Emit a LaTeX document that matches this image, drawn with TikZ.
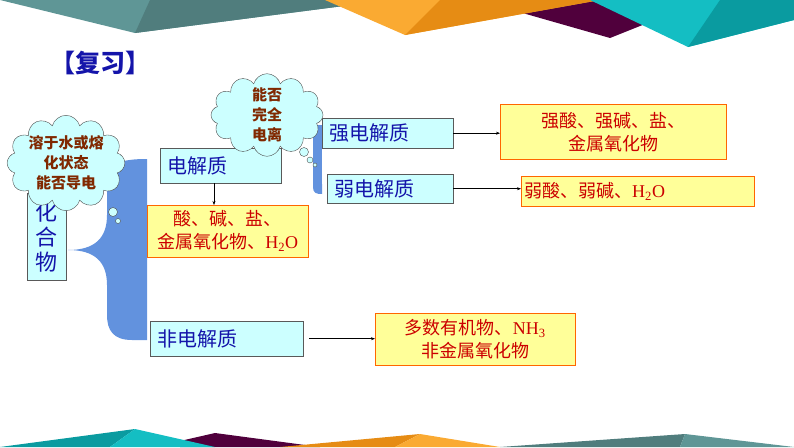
\documentclass[tikz,border=0pt]{standalone}
\usepackage{fontspec}
\setmainfont{Noto Sans CJK SC}
\newfontfamily\lat{Liberation Serif}
\usetikzlibrary{shapes.symbols,arrows.meta}
\definecolor{cyanbox}{RGB}{204,255,255}
\definecolor{yelbox}{RGB}{255,255,153}
\definecolor{bluetxt}{RGB}{20,20,170}
\definecolor{redtxt}{RGB}{204,0,0}
\definecolor{browntxt}{RGB}{128,40,0}
\definecolor{brace}{RGB}{98,146,222}
\definecolor{tealA}{RGB}{95,150,150}
\definecolor{tealB}{RGB}{80,125,125}
\definecolor{orA}{RGB}{250,170,50}
\definecolor{orB}{RGB}{230,140,20}
\definecolor{puA}{RGB}{80,0,60}
\definecolor{cyA}{RGB}{20,190,195}
\definecolor{cyB}{RGB}{10,155,160}
\tikzset{
 cbox/.style={draw=gray!70!black,fill=cyanbox,text=bluetxt,font=\fontsize{20}{22}\selectfont,inner xsep=7pt,inner ysep=0pt,anchor=north west,align=left},
 ybox/.style={draw=orange!80!red,fill=yelbox,text=redtxt,font=\fontsize{18}{23}\selectfont,inner sep=0pt,anchor=north west,align=center},
 cld/.style={cloud,cloud puffs=12,cloud ignores aspect,draw=black!70,fill=cyanbox,text=browntxt,font=\bfseries\fontsize{15}{20}\selectfont,align=center,inner sep=0pt},
 bub/.style={circle,draw=black!70,fill=cyanbox,inner sep=0pt},
 conn/.style={draw=black,line width=0.5pt},
 arr/.style={conn,-{Stealth[length=4pt,width=3pt]}}
}
\begin{document}
\begin{tikzpicture}[x=1pt,y=-1pt]
\useasboundingbox (0,0) rectangle (794,447);
% top decoration
\fill[tealA] (0,0) -- (135,33) -- (390,0) -- cycle;
\fill[tealB] (135,33) -- (150,0) -- (390,0) -- cycle;
\fill[puA] (505,8) -- (610,38) -- (650,22) -- (600,0) -- cycle;
\fill[orA] (325,0) -- (405,35) -- (600,0) -- cycle;
\fill[orB] (405,35) -- (440,0) -- (600,0) -- cycle;
\fill[cyA] (590,0) -- (688,47) -- (794,20) -- (794,0) -- cycle;
\fill[cyB] (688,47) -- (720,0) -- (794,0) -- (794,20) -- cycle;
% bottom decoration
\fill[puA] (180,441) -- (215,433) -- (320,447) -- (180,447) -- cycle;
\fill[cyB] (0,447) -- (135,429) -- (110,447) -- cycle;
\fill[cyA] (110,447) -- (135,429) -- (215,447) -- cycle;
\fill[orB] (280,447) -- (420,434) -- (395,447) -- cycle;
\fill[orA] (395,447) -- (420,434) -- (500,447) -- cycle;
\fill[tealB] (500,447) -- (685,434) -- (680,447) -- cycle;
\fill[tealA] (680,447) -- (685,434) -- (794,447) -- cycle;
% title
\node[text=bluetxt,font=\bfseries\fontsize{25}{27}\selectfont] (title) at (100,63) {【复习】};
% brace
\fill[brace] (68,250) .. controls (95,250) and (107,238) .. (107,215) -- (107,180)
  .. controls (107,163) and (122,159) .. (147,159) -- (147,340) -- (132,340)
  .. controls (113,340) and (107,330) .. (107,315) -- (107,285)
  .. controls (107,262) and (95,250) .. (68,250) -- cycle;
\fill[brace] (313,125) rectangle (322,185);
\fill[brace] (313,184) -- (313,187) .. controls (313,193) and (316,194) .. (322,194) -- (322,184) -- cycle;
% boxes
\node[cbox,inner xsep=0pt,minimum width=39pt,minimum height=87pt,align=center,font=\fontsize{22}{25}\selectfont] (hhw) at (27,193) {化\\合\\物};
\node[cld,minimum width=105pt,minimum height=70pt] (c1) at (66,163) {溶于水或熔\\化状态\\能否导电};
\node[bub,minimum size=9pt] (b1) at (113,212) {};
\node[bub,minimum size=5pt] (b2) at (118,221) {};
\node[cbox,text width=107pt,minimum height=35pt] (dj) at (160,148) {电解质};
\node[ybox,minimum width=161pt,minimum height=52pt] (y1) at (147,205) {酸、碱、盐、\\金属氧化物、{\lat H\textsubscript{2}O}};
\node[cbox,text width=139pt,minimum height=35pt] (fdj) at (150,321) {非电解质};
\node[ybox,minimum width=200pt,minimum height=52pt] (y4) at (375,313) {多数有机物、{\lat NH\textsubscript{3}}\\非金属氧化物};
\node[cbox,text width=117pt,minimum height=30pt] (qdj) at (322,118) {强电解质};
\node[ybox,minimum width=226pt,minimum height=55pt] (y2) at (500,104) {强酸、强碱、盐、\\金属氧化物};
\node[cbox,text width=112pt,minimum height=29pt] (rdj) at (327,174) {弱电解质};
\node[ybox,text width=227pt,inner xsep=3pt,minimum height=30pt,align=left] (y3) at (521,176) {弱酸、弱碱、{\lat H\textsubscript{2}O}};
\node[cld,minimum width=112pt,minimum height=56pt] (c2) at (267,115) {能否\\完全\\电离};
\node[bub,minimum size=9pt] (b3) at (304,152) {};
\node[bub,minimum size=6pt] (b4) at (310,160) {};
\node[bub,minimum size=4pt] (b5) at (315,165) {};
% connectors
\draw[arr] (dj.south -| 214,0) -- (y1.north -| 214,0);
\draw[arr] (qdj.east) -- (y2.west |- qdj.east);
\draw[arr] (rdj.east) -- (y3.west |- rdj.east);
\draw[arr] (fdj.east) ++(6,0) -- (y4.west |- fdj.east);
\end{tikzpicture}
\end{document}
